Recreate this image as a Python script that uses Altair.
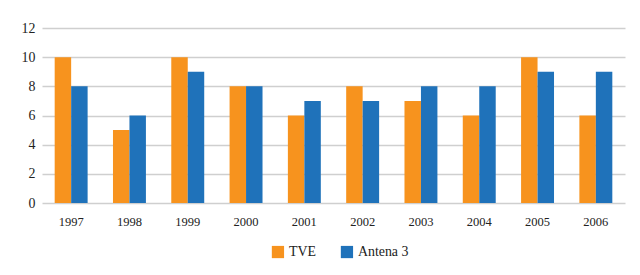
import altair as alt
import pandas as pd

years = ["1997", "1998", "1999", "2000", "2001", "2002", "2003", "2004", "2005", "2006"]
tve = [10, 5, 10, 8, 6, 8, 7, 6, 10, 6]
antena3 = [8, 6, 9, 8, 7, 7, 8, 8, 9, 9]
series = ["TVE", "Antena 3"]
colors = ["#F7931E", "#1F72BA"]

rows = []
for y, a, b in zip(years, tve, antena3):
    rows.append({"year": y, "serie": series[0], "value": a})
    rows.append({"year": y, "serie": series[1], "value": b})
df = pd.DataFrame(rows)

FONT = "Liberation Serif"

chart = alt.Chart(df).mark_bar().encode(
    x=alt.X("year:N", sort=years, title=None,
            scale=alt.Scale(paddingInner=0.0, paddingOuter=0.0),
            axis=alt.Axis(labelAngle=0, domain=False, ticks=False, grid=False,
                          labelFontSize=12.5, labelColor="#222", labelFont=FONT,
                          labelPadding=12)),
    xOffset=alt.XOffset("serie:N", sort=series,
                        scale=alt.Scale(paddingInner=0.0, paddingOuter=0.77)),
    y=alt.Y("value:Q", title=None,
            scale=alt.Scale(domain=[0, 12], nice=False),
            axis=alt.Axis(values=[0, 2, 4, 6, 8, 10, 12], domain=False, ticks=False,
                          gridColor="#CFCFCF", gridWidth=1.5, labelFont=FONT,
                          labelFontSize=13.9, labelColor="#222",
                          labelPadding=7)),
    color=alt.Color("serie:N", sort=series, title=None,
                    scale=alt.Scale(domain=series, range=colors),
                    legend=alt.Legend(orient="none", legendX=229, legendY=217,
                                      direction="horizontal", symbolType="square",
                                      symbolSize=150, symbolStrokeWidth=0,
                                      labelFontSize=13.9, labelFont=FONT,
                                      labelColor="#222", columnPadding=24,
                                      labelOffset=4)),
).properties(
    width=583, height=175,
    autosize=alt.AutoSizeParams(type="none"),
    padding={"left": 42, "top": 28, "right": 15, "bottom": 72},
).configure(font=FONT).configure_view(stroke=None)

chart.save("out.html", embed_options={"renderer": "svg", "actions": False})
